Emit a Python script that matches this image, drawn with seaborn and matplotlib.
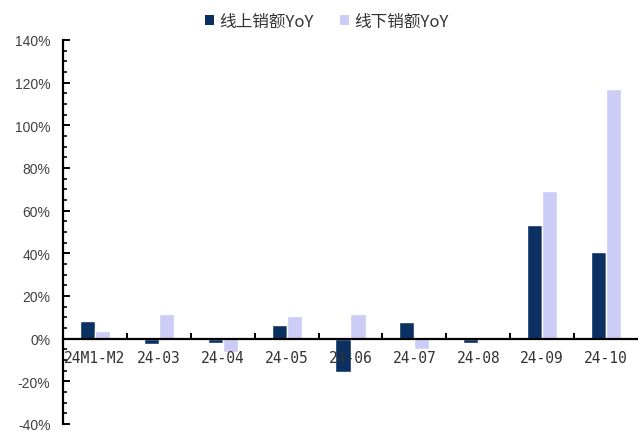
import matplotlib
matplotlib.use("Agg")
import matplotlib.pyplot as plt
from matplotlib.ticker import MultipleLocator, FixedLocator, FuncFormatter
from matplotlib.patches import Patch
import seaborn as sns
import pandas as pd

months = ["24M1-M2", "24-03", "24-04", "24-05", "24-06", "24-07", "24-08", "24-09", "24-10"]
online_yoy = [8.4, -2.3, -1.9, 6.2, -15.6, 7.8, -1.9, 53.5, 40.6]
offline_yoy = [3.4, 11.4, -6.2, 10.5, 11.4, -5.0, 0.0, 69.2, 117.2]
series_names = ["线上销额YoY", "线下销额YoY"]
colors = ["#0B3163", "#CCCCF7"]

df = pd.DataFrame({
    "month": months * 2,
    "value": online_yoy + offline_yoy,
    "series": [series_names[0]] * len(months) + [series_names[1]] * len(months),
})

sns.set_style("white")
plt.rcParams["font.family"] = ["Noto Sans CJK SC", "DejaVu Sans"]

fig = plt.figure(figsize=(6.38, 4.35), dpi=100)
ax = fig.add_axes([63 / 638, 10 / 435, 575 / 638, 384 / 435])

sns.barplot(data=df, x="month", y="value", hue="series", palette=colors,
            order=months, hue_order=series_names, width=0.47, gap=0,
            saturation=1, ax=ax, legend=False)

ax.set_xlim(-0.5, len(months) - 0.5)
ax.set_ylim(-40, 140)
ax.set_xlabel("")
ax.set_ylabel("")
ax.set_axisbelow(False)

# axes frame: left spine plus a baseline through zero
for side in ("top", "right"):
    ax.spines[side].set_visible(False)
ax.spines["bottom"].set_position(("data", 0))
for side in ("left", "bottom"):
    ax.spines[side].set_color("black")
    ax.spines[side].set_linewidth(1.6)

# y axis ticks
ax.yaxis.set_major_locator(MultipleLocator(20))
ax.yaxis.set_minor_locator(MultipleLocator(5))
ax.yaxis.set_major_formatter(FuncFormatter(lambda v, p: f"{v:.0f}%"))
ax.tick_params(axis="y", which="both", left=True, right=False)
ax.tick_params(axis="y", which="major", direction="in", length=5, width=1.4,
               color="black", pad=9, labelsize=10, labelcolor="#404040")
ax.tick_params(axis="y", which="minor", direction="in", length=3, width=1.2,
               color="black")
for lab in ax.get_yticklabels():
    lab.set_family(["Liberation Sans", "DejaVu Sans"])

# x axis: labels at centres, ticks at category boundaries
ax.xaxis.set_minor_locator(FixedLocator([i + 0.5 for i in range(len(months) - 1)]))
ax.tick_params(axis="x", which="both", bottom=True, top=False)
ax.tick_params(axis="x", which="major", length=0, pad=8, labelsize=10.5,
               labelcolor="#333333")
ax.tick_params(axis="x", which="minor", direction="in", length=4, width=1.4,
               color="black")
for lab in ax.get_xticklabels():
    lab.set_family(["DejaVu Sans Mono"])

handles = [Patch(facecolor=c, edgecolor="none") for c in colors]
fig.legend(handles, series_names, loc="center", bbox_to_anchor=(327 / 638, 1 - 22 / 435),
           ncol=2, frameon=False, fontsize=12, handlelength=0.55,
           handleheight=0.55, handletextpad=0.3, columnspacing=1.6,
           labelcolor="#333333")

fig.savefig("out.png", dpi=100)
